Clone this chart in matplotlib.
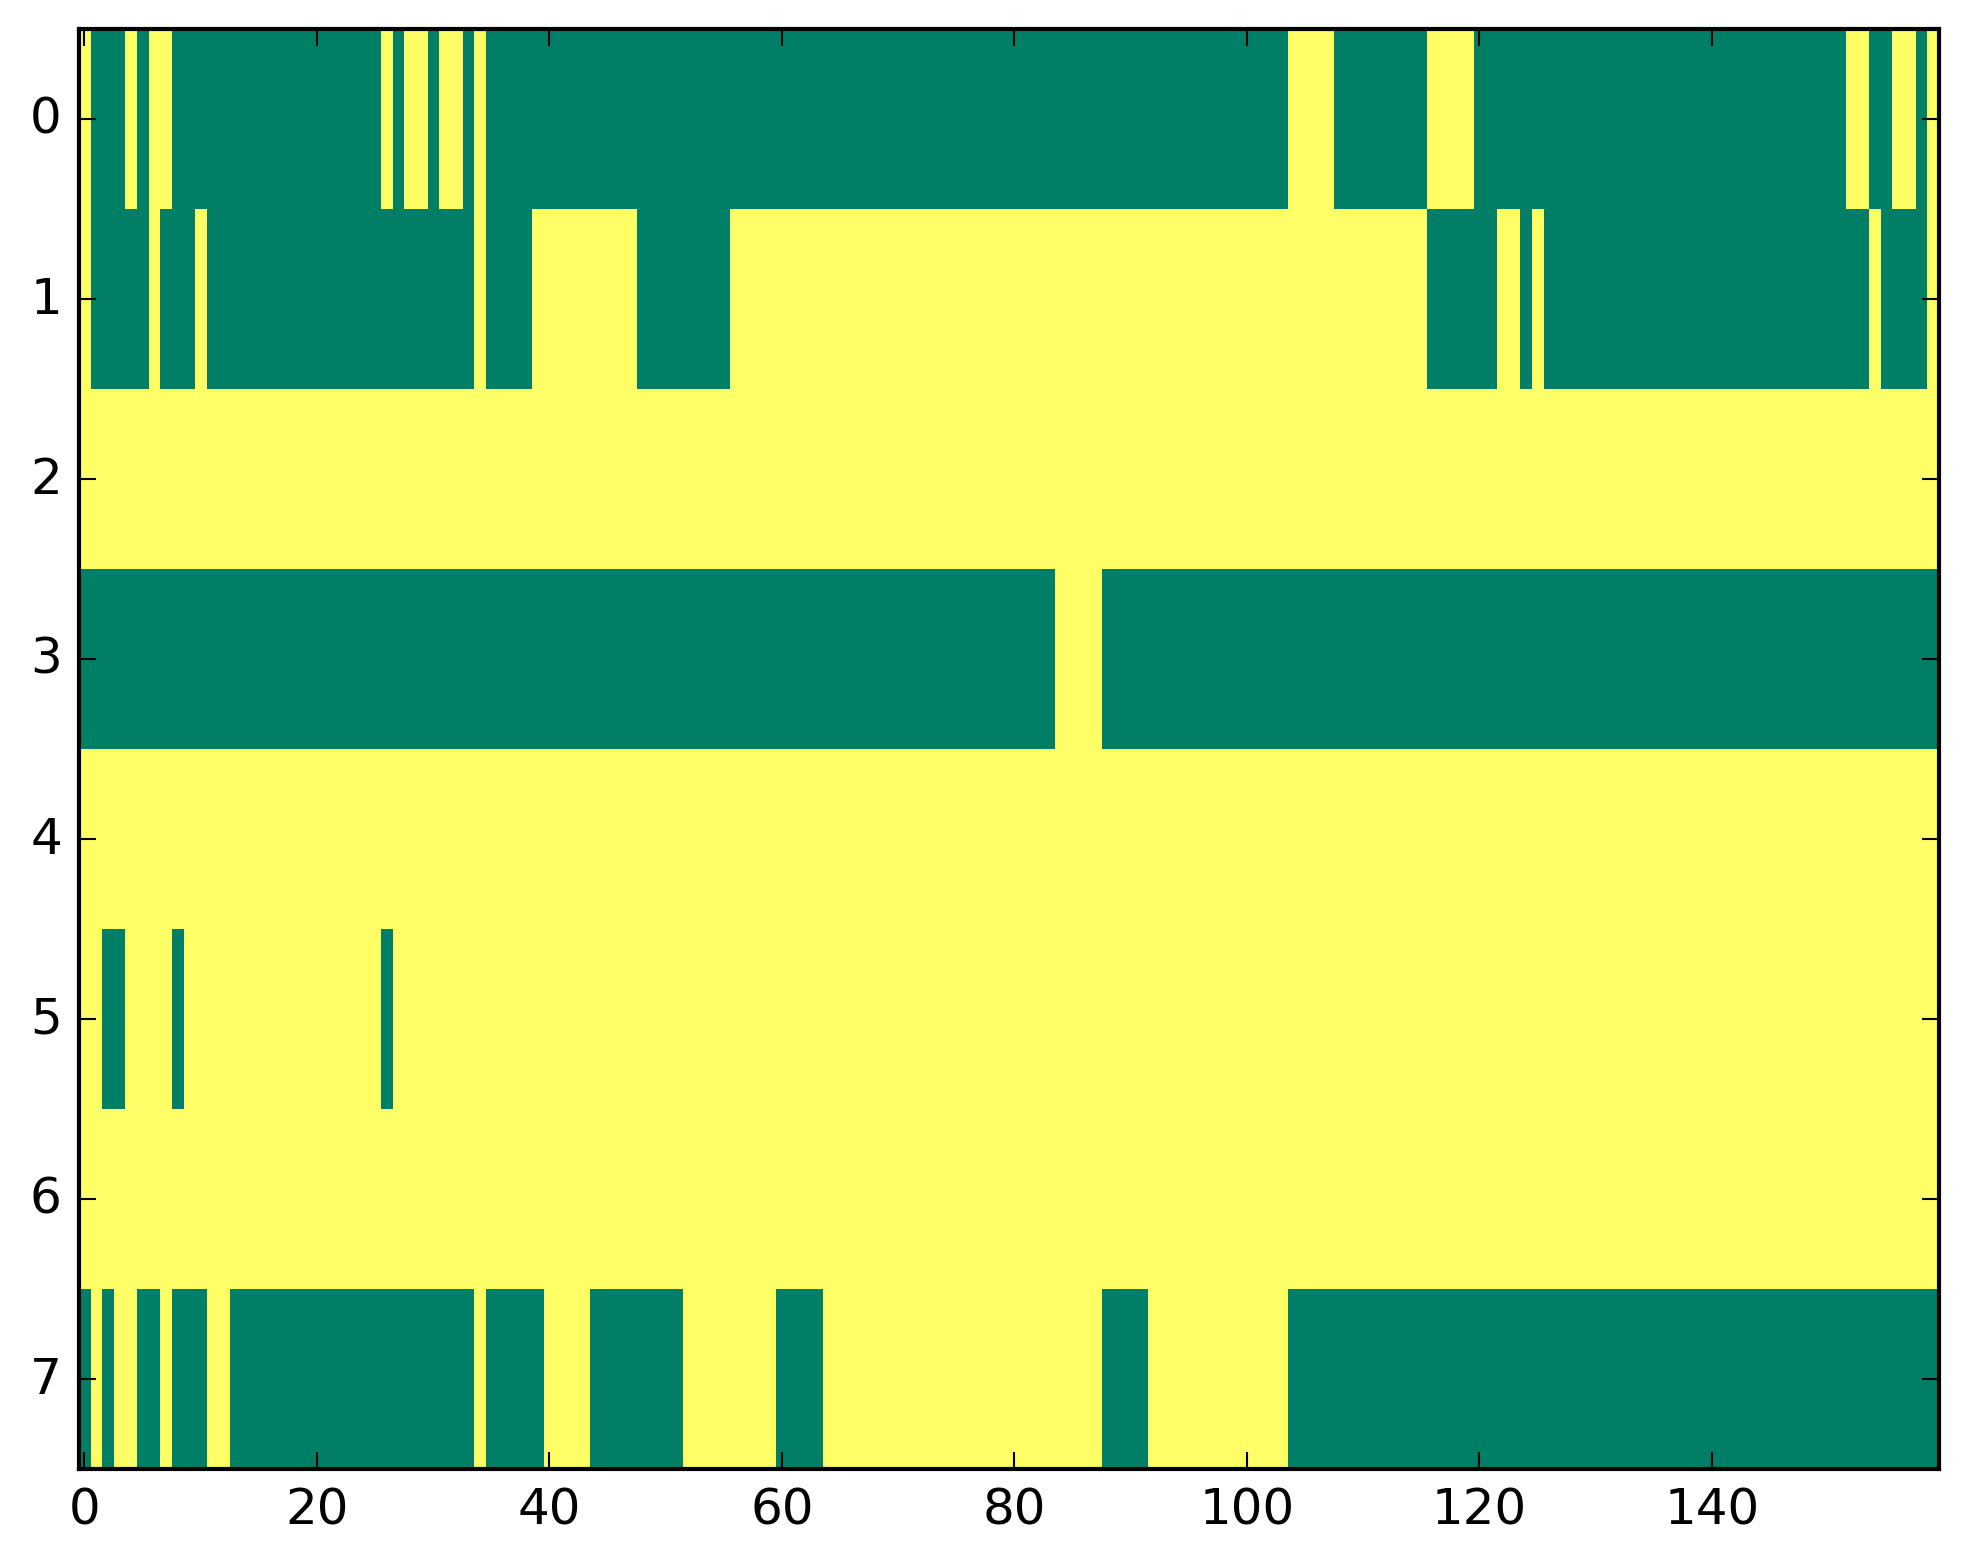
import numpy as np
import matplotlib
matplotlib.use("Agg")
import matplotlib.pyplot as plt

plt.style.use("classic")

# each row as (value, run length) read left to right, 1 = yellow, 0 = green
row0 = [(1, 1), (0, 3), (1, 1), (0, 1), (1, 2), (0, 18), (1, 1), (0, 1), (1, 2), (0, 1),
        (1, 2), (0, 1), (1, 1), (0, 69), (1, 4), (0, 8), (1, 4), (0, 32), (1, 2), (0, 2),
        (1, 2), (0, 1), (1, 1)]
row1 = [(1, 1), (0, 5), (1, 1), (0, 3), (1, 1), (0, 23), (1, 1), (0, 4), (1, 9), (0, 8),
        (1, 60), (0, 6), (1, 2), (0, 1), (1, 1), (0, 28), (1, 1), (0, 4), (1, 1)]
row2 = [(1, 160)]
row3 = [(0, 84), (1, 4), (0, 72)]
row4 = [(1, 160)]
row5 = [(1, 2), (0, 2), (1, 4), (0, 1), (1, 17), (0, 1), (1, 133)]
row6 = [(1, 160)]
row7 = [(0, 1), (1, 1), (0, 1), (1, 2), (0, 2), (1, 1), (0, 3), (1, 2), (0, 21), (1, 1),
        (0, 5), (1, 4), (0, 8), (1, 8), (0, 4), (1, 24), (0, 4), (1, 12), (0, 56)]

rows = [row0, row1, row2, row3, row4, row5, row6, row7]


def expand(runs):
    vals = [v for v, n in runs]
    lens = [n for v, n in runs]
    return np.repeat(vals, lens)


grid = np.vstack([expand(r) for r in rows])

fig = plt.figure(figsize=(8, 6))
ax = fig.add_subplot(111)
ax.imshow(grid, cmap="summer", aspect="auto", interpolation="nearest")

fig.savefig("out.png", dpi=300, bbox_inches="tight")
